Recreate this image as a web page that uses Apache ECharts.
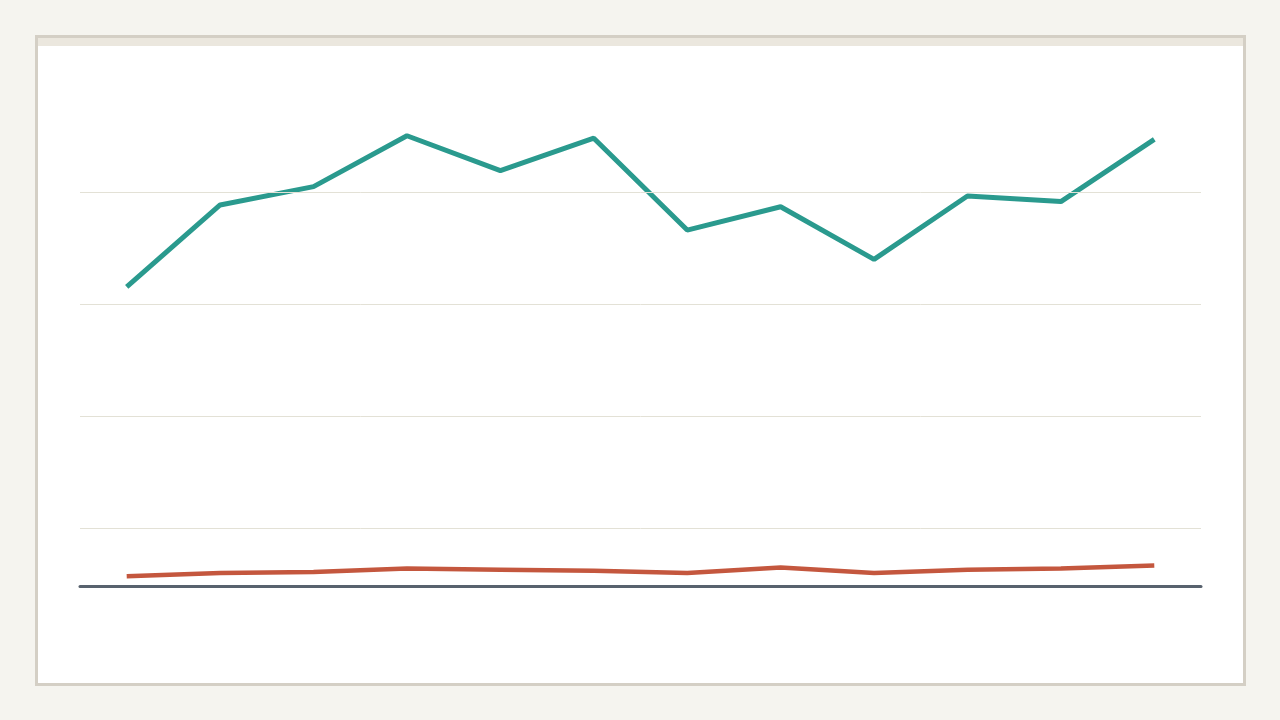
<!DOCTYPE html>
<html>
<head>
<meta charset="utf-8">
<script src="https://cdn.jsdelivr.net/npm/echarts@6/dist/echarts.min.js"></script>
<style>
  html, body { margin: 0; padding: 0; width: 1280px; height: 720px; background: #f5f4ef; overflow: hidden; }
  #card { position: absolute; left: 35px; top: 35px; width: 1205px; height: 645px; background: #ffffff; border: 3px solid #d4cfc5; }
  #strip { position: absolute; left: 0; top: 0; right: 0; height: 8px; background: #ebe7de; }
  #chart { position: absolute; left: 0; top: 0; width: 1280px; height: 720px; }
</style>
</head>
<body>
<div id="card"><div id="strip"></div></div>
<div id="chart"></div>
<script>
const categories = ['Jan', 'Feb', 'Mar', 'Apr', 'May', 'Jun', 'Jul', 'Aug', 'Sep', 'Oct', 'Nov', 'Dec'];
const seriesA = [133.5, 170.1, 178.3, 201.0, 185.4, 199.9, 158.9, 169.3, 145.8, 174.1, 171.6, 199.4];
const seriesB = [4.4, 5.8, 6.3, 7.8, 7.3, 6.8, 5.8, 8.3, 5.8, 7.3, 7.8, 9.2];
const gridValues = [26, 76, 126, 176];

const chart = echarts.init(document.getElementById('chart'), null, { renderer: 'canvas' });
chart.setOption({
  animation: false,
  backgroundColor: 'transparent',
  grid: { left: 80, right: 79, top: 82, bottom: 134, containLabel: false },
  xAxis: {
    type: 'category',
    data: categories,
    boundaryGap: true,
    axisLine: { show: true, lineStyle: { color: '#58626e', width: 3 } },
    axisTick: { show: false },
    axisLabel: { show: false },
    splitLine: { show: false }
  },
  yAxis: {
    type: 'value',
    min: 0,
    max: 225,
    axisLine: { show: false },
    axisTick: { show: false },
    axisLabel: { show: false },
    splitLine: { show: false }
  },
  series: [
    {
      type: 'line',
      data: seriesB,
      z: 1,
      showSymbol: false,
      symbol: 'none',
      lineStyle: { color: '#c4573e', width: 4.5 },
      markLine: {
        silent: true,
        symbol: ['none', 'none'],
        label: { show: false },
        lineStyle: { color: '#e3e1d6', width: 1, type: 'solid' },
        data: gridValues.map(v => ({ yAxis: v }))
      }
    },
    {
      type: 'line',
      data: seriesA,
      z: 3,
      showSymbol: false,
      symbol: 'none',
      lineStyle: { color: '#2a9a8e', width: 5 }
    }
  ]
});
</script>
</body>
</html>
